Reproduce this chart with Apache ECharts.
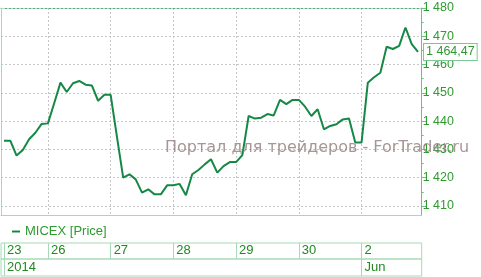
<!DOCTYPE html>
<html><head><meta charset="utf-8">
<script src="https://cdn.jsdelivr.net/npm/echarts@6/dist/echarts.min.js"></script>
<style>html,body{margin:0;padding:0;background:#fff}#c{width:481px;height:277px}</style>
</head><body><div id="c"></div>
<script>
// hourly MICEX values, 23 May – 2 Jun 2014
const values = [
  1433.1, 1433.1, 1427.8, 1429.8, 1433.6, 1435.9, 1439.0,
  1439.2, 1446.3, 1453.6, 1450.3, 1453.4, 1454.2, 1452.9, 1452.6, 1447.2, 1449.3,
  1449.3, 1434.5, 1420.0, 1421.2, 1419.4, 1414.7, 1415.9, 1414.1, 1414.1, 1417.3,
  1417.3, 1417.8, 1413.8, 1421.2, 1422.7, 1424.7, 1426.5, 1421.8, 1424.1, 1425.5,
  1425.5, 1428.0, 1441.8, 1440.9, 1441.2, 1442.5, 1442.0, 1447.5, 1446.0, 1447.5,
  1447.5, 1445.1, 1441.8, 1444.2, 1437.1, 1438.3, 1438.9, 1440.6, 1440.9, 1432.4,
  1432.4, 1453.6, 1455.5, 1457.1, 1466.3, 1465.5, 1466.6, 1473.1, 1467.2, 1464.47
];
const dayLabels = ['23', '26', '27', '28', '29', '30', '2'];
const dayStarts = [0, 7, 17, 27, 37, 47, 57];
const monthLabels = ['2014', 'Jun'];
const monthStarts = [0, 57];
const yTicks = [1410, 1420, 1430, 1440, 1450, 1460, 1470, 1480];
const yMinorTicks = [1410, 1415, 1420, 1425, 1430, 1435, 1440, 1445, 1450, 1455, 1460, 1465, 1470, 1475, 1480];
const seriesName = 'MICEX [Price]';
const watermark = 'Портал для трейдеров - ForTrader.ru';

const XMIN = -0.48, XMAX = 66.59, YMIN = 1406.8, YMAX = 1480;
const FONT = "'Liberation Sans', Arial, sans-serif";
const GREEN_TXT = '#2f9a30';
const BORDER = '#a6dab6';
const GRIDC = '#c6c6c6';

function fmt(v, dec) {
  const s = dec ? v.toFixed(dec) : String(Math.round(v));
  const parts = s.split('.');
  const ip = parts[0].replace(/\B(?=(\d{3})+$)/g, ' ');
  return parts.length > 1 ? ip + ',' + parts[1] : ip;
}

const chart = echarts.init(document.getElementById('c'), null, { renderer: 'canvas' });
const L = 1, R = 59.3;
chart.setOption({
  animation: false,
  backgroundColor: '#fff',
  textStyle: { fontFamily: FONT },
  grid: [
    { left: L, right: R, top: 8, height: 207 },
    { left: L, right: R, top: 243, height: 16, show: true, borderColor: BORDER, borderWidth: 1 },
    { left: L, right: R, top: 259, height: 17, show: true, borderColor: BORDER, borderWidth: 1 }
  ],
  xAxis: [
    { gridIndex: 0, type: 'value', min: XMIN, max: XMAX, position: 'bottom',
      axisLine: { show: true, onZero: false, lineStyle: { color: BORDER, width: 1 } },
      axisTick: { show: false, customValues: dayStarts.slice(1) },
      axisLabel: { show: false },
      splitLine: { show: true, lineStyle: { color: GRIDC, type: [2, 2], width: 1 } } },
    { gridIndex: 0, type: 'value', min: XMIN, max: XMAX, position: 'top',
      axisLine: { show: true, onZero: false, lineStyle: { color: '#5aa878', type: [2, 2], width: 1 } },
      axisTick: { show: false }, axisLabel: { show: false }, splitLine: { show: false } },
    { gridIndex: 1, type: 'value', min: XMIN, max: XMAX, position: 'bottom',
      axisLine: { show: false, onZero: false },
      axisTick: { show: true, inside: true, length: 16, customValues: dayStarts, lineStyle: { color: BORDER } },
      axisLabel: { show: true, inside: true, customValues: dayStarts, margin: 2, align: 'left',
        padding: [0, 0, 0, 3], color: '#1f8a1f', fontSize: 13, fontFamily: FONT,
        formatter: v => dayLabels[dayStarts.indexOf(Math.round(v))] },
      splitLine: { show: false } },
    { gridIndex: 2, type: 'value', min: XMIN, max: XMAX, position: 'bottom',
      axisLine: { show: false, onZero: false },
      axisTick: { show: true, inside: true, length: 17, customValues: monthStarts, lineStyle: { color: BORDER } },
      axisLabel: { show: true, inside: true, customValues: monthStarts, margin: 2, align: 'left',
        padding: [0, 0, 0, 3], color: '#1f8a1f', fontSize: 13, fontFamily: FONT,
        formatter: v => monthLabels[monthStarts.indexOf(Math.round(v))] },
      splitLine: { show: false } }
  ],
  yAxis: [
    { gridIndex: 0, type: 'value', position: 'right', min: YMIN, max: YMAX,
      axisLine: { show: true, onZero: false, lineStyle: { color: '#6cc08a', width: 1 } },
      axisTick: { show: true, length: 5, customValues: yTicks, lineStyle: { color: '#6cc08a' } },
      axisLabel: { show: true, customValues: yTicks, margin: 1, color: GREEN_TXT, fontSize: 12.5,
        fontFamily: FONT, formatter: v => fmt(v) },
      splitLine: { show: true, lineStyle: { color: GRIDC, type: [2, 2], width: 1 } } },
    { gridIndex: 0, type: 'value', position: 'right', min: YMIN, max: YMAX,
      axisLine: { show: false, onZero: false },
      axisTick: { show: true, length: 2, customValues: yMinorTicks, lineStyle: { color: '#6cc08a' } },
      axisLabel: { show: false }, splitLine: { show: false } },
    { gridIndex: 0, type: 'value', position: 'left', min: YMIN, max: YMAX,
      axisLine: { show: true, onZero: false, lineStyle: { color: BORDER, width: 1 } },
      axisTick: { show: true, inside: true, length: 2, customValues: yTicks, lineStyle: { color: BORDER } },
      axisLabel: { show: false }, splitLine: { show: false } },
    { gridIndex: 1, type: 'value', min: 0, max: 1, show: false },
    { gridIndex: 2, type: 'value', min: 0, max: 1, show: false }
  ],
  legend: {
    data: [seriesName], left: 12, top: 225, padding: 0,
    icon: 'rect', itemWidth: 8, itemHeight: 2,
    textStyle: { color: GREEN_TXT, fontSize: 13, fontFamily: FONT }
  },
  graphic: [{
    type: 'text', left: 165, top: 140, z: 100, silent: true,
    style: { text: watermark, fill: 'rgba(150,132,132,0.85)', font: "16px 'DejaVu Sans', sans-serif" }
  }],
  series: [{
    name: seriesName, type: 'line', xAxisIndex: 0, yAxisIndex: 0,
    data: values.map((v, i) => [i, v]),
    showSymbol: false, symbol: 'none',
    color: '#158846',
    lineStyle: { color: '#158846', width: 2 },
    endLabel: {
      show: true, distance: 6, formatter: p => fmt(p.value[1], 2),
      color: GREEN_TXT, fontSize: 12.5, fontFamily: FONT,
      backgroundColor: '#fff', borderColor: '#7cc894', borderWidth: 1, padding: [2, 2, 1, 2]
    }
  }]
});
</script></body></html>
